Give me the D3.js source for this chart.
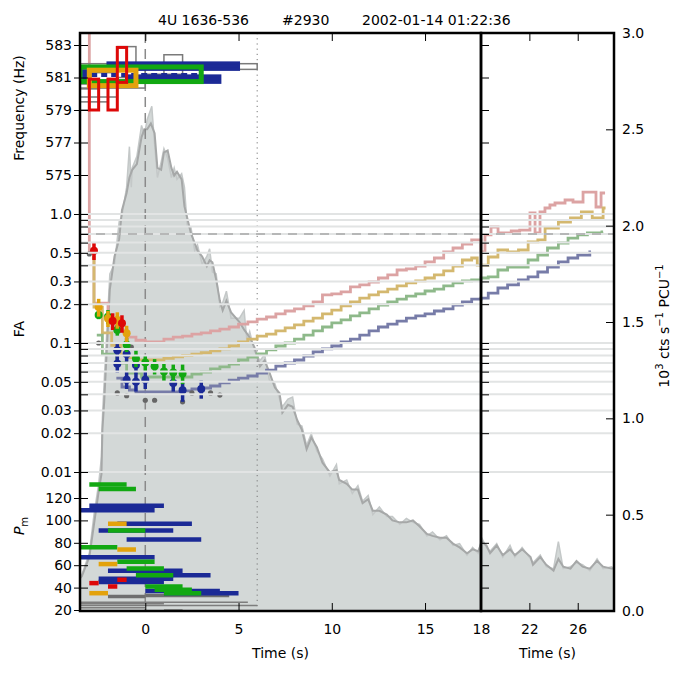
<!DOCTYPE html>
<html>
<head>
<meta charset="utf-8">
<script src="https://cdn.jsdelivr.net/npm/d3@7"></script>
<style>
body { margin: 0; background: #fff; }
svg { font-family: "DejaVu Sans", sans-serif; }
</style>
</head>
<body>
<svg id="chart"></svg>
<script>
// ---- data ----
// light curve, 10^3 cts/s/PCU : [time, rate]
const rateSmooth = [[-3.5,0.17],[-3.4,0.18],[-3.0,0.28],[-2.75,0.45],[-2.5,0.62],[-2.35,0.71],[-2.3,0.94],[-2.2,1.09],[-1.9,1.67],[-1.65,1.84],[-1.4,1.93],[-1.25,2.08],[-1.0,2.17],[-0.85,2.25],[-0.7,2.29],[-0.45,2.32],[-0.2,2.46],[-0.05,2.50],[0.1,2.50],[0.3,2.53],[0.5,2.48],[0.65,2.30],[0.85,2.29],[1.0,2.38],[1.2,2.39],[1.4,2.30],[1.55,2.26],[1.7,2.28],[1.95,2.24],[2.1,2.10],[2.25,2.04],[2.45,1.96],[2.65,1.91],[2.8,1.87],[3.05,1.84],[3.3,1.79],[3.45,1.82],[3.6,1.81],[3.8,1.72],[4.0,1.61],[4.15,1.56],[4.35,1.61],[4.6,1.55],[5.05,1.50],[5.3,1.46],[5.6,1.42],[5.85,1.37],[6.15,1.27],[6.4,1.30],[6.65,1.24],[6.95,1.16],[7.2,1.13],[7.35,1.03],[7.65,1.07],[7.9,1.06],[8.15,0.99],[8.4,0.94],[8.65,0.84],[8.9,0.90],[9.2,0.85],[9.5,0.77],[9.9,0.72],[10.25,0.73],[10.4,0.68],[10.8,0.66],[11.1,0.63],[11.4,0.63],[11.65,0.56],[11.95,0.58],[12.2,0.52],[12.55,0.52],[12.95,0.50],[13.25,0.47],[13.65,0.46],[14.0,0.46],[14.35,0.47],[14.7,0.44],[15.1,0.40],[15.4,0.39],[15.8,0.38],[16.15,0.38],[16.5,0.35],[16.85,0.33],[17.25,0.30],[17.55,0.32],[17.85,0.31],[18.05,0.36],[18.45,0.34],[18.75,0.30],[19.3,0.34],[19.8,0.29],[20.4,0.32],[20.8,0.29],[21.4,0.32],[22.1,0.28],[22.3,0.24],[22.9,0.28],[23.4,0.24],[24.0,0.21],[24.4,0.27],[24.8,0.23],[25.4,0.22],[25.9,0.26],[26.4,0.23],[27.0,0.22],[27.6,0.26],[28.1,0.23],[28.8,0.22],[29.0,0.22]];
const rateFine = [[-3.5,0.17],[-3.4,0.19],[-3.0,0.30],[-2.75,0.50],[-2.5,0.66],[-2.35,0.80],[-2.3,1.00],[-2.2,1.20],[-1.9,1.75],[-1.65,1.80],[-1.4,2.02],[-1.25,2.05],[-1.0,2.20],[-0.85,2.41],[-0.75,2.20],[-0.7,2.30],[-0.45,2.36],[-0.2,2.52],[-0.05,2.47],[0.1,2.55],[0.35,2.62],[0.5,2.42],[0.65,2.25],[0.85,2.33],[1.0,2.40],[1.2,2.35],[1.4,2.25],[1.55,2.30],[1.7,2.24],[1.95,2.27],[2.1,2.20],[2.25,2.00],[2.45,1.99],[2.65,1.87],[2.8,1.90],[3.05,1.80],[3.3,1.84],[3.45,1.88],[3.6,1.76],[3.8,1.75],[4.0,1.58],[4.15,1.60],[4.35,1.66],[4.6,1.52],[5.05,1.52],[5.3,1.56],[5.45,1.40],[5.6,1.45],[5.85,1.35],[6.15,1.30],[6.4,1.33],[6.65,1.20],[6.95,1.18],[7.2,1.10],[7.35,1.06],[7.65,1.10],[7.9,1.11],[8.15,0.97],[8.4,0.96],[8.65,0.86],[8.9,0.92],[9.2,0.83],[9.5,0.79],[9.9,0.70],[10.25,0.76],[10.4,0.66],[10.8,0.68],[11.1,0.61],[11.4,0.65],[11.65,0.57],[11.95,0.60],[12.2,0.50],[12.55,0.54],[12.95,0.49],[13.25,0.49],[13.65,0.45],[14.0,0.48],[14.35,0.46],[14.7,0.45],[15.1,0.39],[15.4,0.41],[15.8,0.37],[16.15,0.39],[16.5,0.34],[16.85,0.35],[17.25,0.29],[17.55,0.33],[17.85,0.30],[18.05,0.38],[18.45,0.33],[18.75,0.31],[19.3,0.35],[19.8,0.28],[20.4,0.34],[20.8,0.28],[21.4,0.33],[22.1,0.27],[22.3,0.25],[22.9,0.29],[23.4,0.23],[24.0,0.22],[24.4,0.36],[24.8,0.22],[25.4,0.23],[25.9,0.25],[26.4,0.24],[27.0,0.21],[27.6,0.27],[28.1,0.22],[28.8,0.23],[29.0,0.22]];

// FA detection thresholds (step lines) : [time, FA]
const faPink = [[-3.0,30],[-3.0,0.508],[-2.75,0.204],[-2.0,0.143],[-1.55,0.126],[-1.0,0.111],[-0.5,0.105],[0.0,0.102],[0.5,0.102],[1.0,0.107],[1.5,0.111],[2.0,0.113],[2.5,0.117],[3.0,0.120],[3.5,0.124],[4.0,0.128],[4.5,0.133],[5.0,0.140],[5.5,0.146],[6.0,0.153],[6.5,0.159],[7.0,0.168],[7.5,0.177],[8.0,0.184],[8.5,0.194],[9.0,0.208],[9.5,0.236],[10.0,0.240],[10.5,0.249],[11.0,0.272],[11.5,0.282],[12.0,0.297],[12.5,0.319],[13.0,0.337],[13.5,0.368],[14.0,0.375],[14.5,0.395],[15.0,0.425],[15.5,0.456],[16.0,0.508],[16.5,0.545],[17.0,0.585],[17.5,0.629],[18.0,0.508],[18.33,0.688],[18.83,0.793],[19.41,0.713],[20.5,0.738],[21.2,0.751],[22.05,1.018],[22.47,0.713],[22.88,1.036],[23.29,1.113],[23.7,1.174],[24.12,1.217],[24.95,1.284],[25.61,1.239],[26.44,1.48],[27.51,1.133],[27.93,1.455],[28.26,1.455]];
const faTan = [[-2.85,0.46],[-2.75,0.19],[-2.3,0.12],[-1.8,0.096],[-1.3,0.081],[-1.0,0.077],[-0.5,0.074],[0.0,0.074],[0.5,0.074],[1.0,0.076],[1.5,0.078],[2.0,0.080],[2.5,0.082],[3.0,0.084],[3.5,0.087],[4.0,0.090],[4.5,0.095],[5.0,0.102],[5.5,0.107],[6.0,0.113],[6.5,0.117],[7.0,0.124],[7.5,0.131],[8.0,0.138],[8.5,0.148],[9.0,0.156],[9.5,0.168],[10.0,0.180],[10.5,0.194],[11.0,0.208],[11.5,0.223],[12.0,0.236],[12.5,0.249],[13.0,0.262],[13.5,0.277],[14.0,0.292],[14.5,0.303],[15.0,0.319],[15.5,0.337],[16.0,0.362],[16.5,0.395],[17.0,0.440],[17.5,0.456],[17.8,0.402],[18.6,0.464],[19.4,0.526],[20.2,0.508],[21.1,0.526],[21.9,0.607],[22.7,0.629],[23.3,0.779],[24.4,0.867],[25.4,0.931],[26.3,1.036],[27.2,0.931],[28.1,1.113],[28.3,1.113]];
const faGreen = [[-2.6,0.115],[-2.3,0.082],[-1.55,0.070],[-1.0,0.0585],[-0.2,0.0545],[0.5,0.0545],[1.0,0.0545],[1.5,0.0545],[2.0,0.0545],[2.5,0.0575],[3.0,0.0596],[3.5,0.0629],[4.0,0.0652],[4.5,0.0687],[5.0,0.0738],[5.5,0.0779],[6.0,0.0822],[6.5,0.0883],[7.0,0.0948],[7.5,0.100],[8.0,0.107],[8.5,0.115],[9.0,0.124],[9.5,0.133],[10.0,0.143],[10.5,0.151],[11.0,0.162],[11.5,0.171],[12.0,0.184],[12.5,0.197],[13.0,0.208],[13.5,0.219],[14.0,0.231],[14.5,0.240],[15.0,0.253],[15.5,0.262],[16.0,0.277],[16.5,0.292],[17.0,0.303],[17.5,0.308],[18.0,0.319],[18.6,0.325],[19.4,0.368],[20.2,0.388],[21.1,0.388],[21.9,0.440],[22.7,0.481],[23.5,0.545],[24.4,0.596],[25.2,0.651],[26.0,0.688],[26.8,0.713],[27.6,0.713],[28.0,0.725],[28.1,0.725]];
const faBlue = [[-1.55,0.0535],[-1.25,0.0456],[-0.85,0.0432],[-0.5,0.0417],[0.0,0.0417],[0.5,0.0417],[1.0,0.0417],[1.5,0.0417],[2.0,0.0425],[2.5,0.044],[3.0,0.0448],[3.5,0.0464],[4.0,0.049],[4.5,0.0516],[5.0,0.0535],[5.5,0.0555],[6.0,0.0585],[6.5,0.0617],[7.0,0.0663],[7.5,0.070],[8.0,0.0738],[8.5,0.0793],[9.0,0.0852],[9.5,0.0899],[10.0,0.0948],[10.5,0.102],[11.0,0.107],[11.5,0.115],[12.0,0.124],[12.5,0.133],[13.0,0.140],[13.5,0.148],[14.0,0.156],[14.5,0.162],[15.0,0.168],[15.5,0.177],[16.0,0.184],[16.5,0.197],[17.0,0.208],[17.5,0.219],[18.0,0.223],[18.6,0.244],[19.4,0.267],[20.2,0.282],[21.1,0.308],[21.9,0.325],[22.7,0.355],[23.5,0.388],[24.4,0.425],[25.2,0.456],[26.0,0.481],[27.0,0.508],[27.1,0.508]];

// FA of individual candidates : [time, FA, error]
const ptsRed = [[-2.75,0.52,0.08],[-1.75,0.148,0.022],[-1.25,0.142,0.022]];
const ptsOrange = [[-2.5,0.19,0.03],[-2.0,0.155,0.022],[-1.5,0.151,0.022],[-1.0,0.119,0.017]];
const ptsGreen = [[-2.5,0.165,0.012],[-2.0,0.16,0.02],[-1.5,0.126,0.012],[-1.0,0.097,0.012],[-0.5,0.076,0.011],[0.0,0.0705,0.01],[0.5,0.066,0.009],[1.0,0.060,0.009],[1.5,0.059,0.009],[2.0,0.058,0.01]];
const ptsBlue = [[-1.5,0.088,0.01],[-1.5,0.069,0.01],[-1.0,0.082,0.01],[-1.0,0.052,0.008],[-0.5,0.0675,0.01],[-0.5,0.050,0.008],[0.0,0.052,0.008],[1.5,0.049,0.007],[2.0,0.043,0.008],[3.0,0.044,0.007]];
const ptsGray = [[-3.0,0.49],[-2.5,0.10],[-0.75,0.093],[-1.5,0.041],[-1.0,0.039],[0.0,0.036],[0.5,0.036],[2.0,0.035],[2.5,0.041],[3.5,0.041],[4.0,0.0395]];

// frequency windows : [t0, t1, f0, f1]
const freqGray = [[-3.5,-2.5,579.0,580.3],[-3.5,-2.0,579.5,580.6],[-3.5,-1.5,579.8,581.3],[-3.5,0.0,580.35,581.5],[-1.5,-0.5,581.0,582.9],[1.0,2.0,581.0,582.4],[-3.5,6.0,581.5,581.85],[0.0,2.0,580.8,581.2]];
const freqBlue = [[-2.0,5.0,581.5,581.9],[-1.0,4.0,580.7,581.1],[-3.5,-3.0,580.7,581.4]];
const freqGreen = [[-3.5,3.0,580.75,581.65]];
const freqOrange = [[-3.0,-0.5,580.5,581.45]];
const freqRed = [[-3.0,-2.5,579.0,580.9],[-2.0,-1.5,579.0,580.9],[-1.5,-1.0,580.7,582.85]];

// P_m bars : [t0, t1, Pm]
const pmBlue = [[-3.0,1.0,113],[-3.5,0.5,109],[-1.5,2.5,97],[-2.5,1.5,91],[-1.0,3.0,83],[-3.5,0.5,67],[-2.0,2.0,55],[-0.5,3.5,51],[-2.5,1.5,48],[-2.5,1.0,45],[0.0,4.0,37],[1.0,5.0,35]];
const pmGreen = [[-3.0,-1.0,132],[-2.5,-0.5,128],[-2.0,0.0,91],[-3.5,-1.5,76],[-1.5,0.5,63],[-1.0,1.0,57],[-0.5,1.5,51],[0.0,2.0,41],[0.5,2.5,38],[1.0,3.0,35]];
const pmOrange = [[-2.0,-1.0,97],[-1.5,-0.5,74],[-2.5,-1.5,61],[-3.0,-2.0,35]];
const pmRed = [[-1.5,-1.0,47],[-3.0,-2.5,44],[-2.0,-1.5,41]];
const pmGrayWide = [[-2.0,0.0,32],[0.0,4.5,33],[1.0,2.0,19]];
const pmGrayThin = [[-3.5,5.5,27],[-3.5,1.0,25.5],[-3.5,6.0,24],[-3.5,0.0,22]];

// ticks
const freqTicks = [575,577,579,581,583];
const faMajor = [1.0,0.5,0.3,0.2,0.1,0.05,0.03,0.02,0.01];
const faMajorText = ["1.0","0.5","0.3","0.2","0.1","0.05","0.03","0.02","0.01"];
const faGrid = [0.01,0.02,0.03,0.04,0.05,0.06,0.07,0.08,0.09,0.1,0.2,0.3,0.4,0.5,0.6,0.7,0.8,0.9,1.0];
const pmTicks = [20,40,60,80,100,120];
const rateTicks = [0,0.5,1.0,1.5,2.0,2.5,3.0];
const timeTicksL = [0,5,10,15,18];
const timeTicksR = [22,26];

// ---- layout ----
const pLeft = 80, pMid = 481, pRight = 614, pTop = 33, pBottom = 611;

const svg = d3.select("#chart").attr("width", 675).attr("height", 675);

const xL = d3.scaleLinear().domain([-3.5, 18]).range([pLeft, pMid]);
const xR = d3.scaleLinear().domain([18, 29]).range([pMid, pRight]);
const yRate = d3.scaleLinear().domain([0, 3]).range([pBottom, pTop]);
const yFreq = d3.scaleLinear().domain([583, 575]).range([45, 175]);
const yFA = d3.scaleLog().domain([1, 0.01]).range([214, 472]);
const yPm = d3.scaleLinear().domain([20, 120]).range([610, 498]);

const defs = svg.append("defs");
function addClip(id, x, y, w, h) {
  defs.append("clipPath").attr("id", id).append("rect")
    .attr("x", x).attr("y", y).attr("width", w).attr("height", h);
}
addClip("clipL", pLeft, pTop, pMid - pLeft, pBottom - pTop);
addClip("clipR", pMid, pTop, pRight - pMid, pBottom - pTop);
addClip("clipF", pLeft, pTop, pMid - pLeft, 190 - pTop);

const gL = svg.append("g").attr("clip-path", "url(#clipL)");
const gR = svg.append("g").attr("clip-path", "url(#clipR)");

// light curve in both panels
function drawCurve(g, x) {
  const area = d3.area().x(d => x(d[0])).y0(yRate(0)).y1(d => yRate(d[1]));
  const line = d3.line().x(d => x(d[0])).y(d => yRate(d[1]));
  g.append("path").datum(rateFine).attr("d", area).attr("fill", "#d3d8d7");
  g.append("path").datum(rateSmooth).attr("d", area).attr("fill", "#d3d8d7");
  g.append("path").datum(rateFine).attr("d", line)
    .attr("fill", "none").attr("stroke", "#c4c8c8").attr("stroke-width", 1.5);
  g.append("path").datum(rateSmooth).attr("d", line)
    .attr("fill", "none").attr("stroke", "#a6a8a8").attr("stroke-width", 2);
}
drawCurve(gL, xL);
drawCurve(gR, xR);

// FA grid lines across both panels
svg.append("g").selectAll("line")
  .data(faGrid)
  .enter()
  .append("line")
  .attr("x1", pLeft).attr("x2", pRight)
  .attr("y1", d => yFA(d)).attr("y2", d => yFA(d))
  .attr("stroke", "#e2e4e4")
  .attr("stroke-width", 2);

// reference lines
gL.append("line")
  .attr("x1", xL(0)).attr("x2", xL(0)).attr("y1", pTop).attr("y2", pBottom)
  .attr("stroke", "#8a8a8a").attr("stroke-width", 1.5).attr("stroke-dasharray", "10,6");
gL.append("line")
  .attr("x1", xL(6)).attr("x2", xL(6)).attr("y1", pTop).attr("y2", pBottom)
  .attr("stroke", "#777").attr("stroke-width", 1).attr("stroke-dasharray", "1.2,4");
svg.append("line")
  .attr("x1", pLeft).attr("x2", pRight).attr("y1", yFA(0.7)).attr("y2", yFA(0.7))
  .attr("stroke", "#8a8a8a").attr("stroke-width", 1.2).attr("stroke-dasharray", "9,7");

// frequency windows
const gF = svg.append("g").attr("clip-path", "url(#clipF)");
function drawRects(data, color, width, fill) {
  gF.append("g").selectAll("rect")
    .data(data)
    .enter()
    .append("rect")
    .attr("x", d => xL(d[0]))
    .attr("y", d => yFreq(d[3]))
    .attr("width", d => xL(d[1]) - xL(d[0]))
    .attr("height", d => yFreq(d[2]) - yFreq(d[3]))
    .attr("fill", fill)
    .attr("stroke", color)
    .attr("stroke-width", width);
}
drawRects(freqGray, "#7a7a7a", 1.5, "none");
drawRects(freqBlue, "#1b2a96", 3, "#1b2a96");
drawRects(freqGreen, "#12a812", 5, "none");
gF.append("line")
  .attr("x1", xL(-2.9)).attr("x2", xL(3.0))
  .attr("y1", yFreq(581.15)).attr("y2", yFreq(581.15))
  .attr("stroke", "#1b2a96").attr("stroke-width", 4).attr("stroke-dasharray", "6,4");
drawRects(freqOrange, "#e3a20c", 5, "none");
drawRects(freqRed, "#dd0808", 3, "none");

// P_m bars
function drawBars(data, color, width) {
  gL.append("g").selectAll("line")
    .data(data)
    .enter()
    .append("line")
    .attr("x1", d => xL(d[0])).attr("x2", d => xL(d[1]))
    .attr("y1", d => yPm(d[2])).attr("y2", d => yPm(d[2]))
    .attr("stroke", color)
    .attr("stroke-width", width);
}
drawBars(pmGrayThin, "#7d7d7d", 1.5);
drawBars(pmGrayWide, "#6e6e6e", 3.5);
drawBars(pmBlue, "#1b2a96", 4.5);
drawBars(pmGreen, "#12a812", 4.5);
drawBars(pmOrange, "#e3a20c", 4.5);
drawBars(pmRed, "#dd0808", 4.5);

// FA threshold steps
const faLines = [
  {data: faPink, color: "#dca3a3"},
  {data: faTan, color: "#d4b86f"},
  {data: faGreen, color: "#8eb98a"},
  {data: faBlue, color: "#777ca8"}
];
[[gL, xL], [gR, xR]].forEach(function(p) {
  const step = d3.line().x(d => p[1](d[0])).y(d => yFA(d[1])).curve(d3.curveStepAfter);
  faLines.forEach(function(s) {
    p[0].append("path").datum(s.data).attr("d", step)
      .attr("fill", "none").attr("stroke", s.color).attr("stroke-width", 2.8);
  });
});

// candidate points
gL.append("g").selectAll("circle")
  .data(ptsGray)
  .enter()
  .append("circle")
  .attr("cx", d => xL(d[0])).attr("cy", d => yFA(d[1]))
  .attr("r", 2.6).attr("fill", "#666");

function drawPts(data, color) {
  const g = gL.append("g");
  g.selectAll("line")
    .data(data)
    .enter()
    .append("line")
    .attr("x1", d => xL(d[0])).attr("x2", d => xL(d[0]))
    .attr("y1", d => yFA(d[1] + d[2])).attr("y2", d => yFA(d[1] - d[2]))
    .attr("stroke", color).attr("stroke-width", 3.5);
  g.selectAll("circle")
    .data(data)
    .enter()
    .append("circle")
    .attr("cx", d => xL(d[0])).attr("cy", d => yFA(d[1]))
    .attr("r", 4).attr("fill", color);
}
drawPts(ptsBlue, "#1b2a96");
drawPts(ptsGreen, "#12a812");
drawPts(ptsOrange, "#e3a20c");
drawPts(ptsRed, "#dd0808");

// ---- axes ----
function styleAxis(g) {
  g.select(".domain").remove();
  g.selectAll("line").attr("stroke", "#000").attr("stroke-width", 1);
  g.selectAll("text").style("font-size", "14px").style("font-family", "DejaVu Sans").attr("fill", "#000");
}

// left: outer ticks with labels
svg.append("g").attr("transform", `translate(${pLeft},0)`)
  .call(d3.axisLeft(yFreq).tickValues(freqTicks).tickSize(6).tickPadding(2)).call(styleAxis);
svg.append("g").attr("transform", `translate(${pLeft},0)`)
  .call(d3.axisLeft(yFA).tickValues(faMajor).tickSize(6).tickPadding(2)
    .tickFormat(d => faMajorText[faMajor.indexOf(d)])).call(styleAxis);
svg.append("g").attr("transform", `translate(${pLeft},0)`)
  .call(d3.axisLeft(yPm).tickValues(pmTicks).tickSize(6).tickPadding(2)).call(styleAxis);

// inner ticks on the left spine and on the panel divider
[pLeft, pMid].forEach(function(x0) {
  svg.append("g").attr("transform", `translate(${x0},0)`)
    .call(d3.axisRight(yFreq).tickValues(freqTicks).tickSize(8).tickFormat("")).call(styleAxis);
  svg.append("g").attr("transform", `translate(${x0},0)`)
    .call(d3.axisRight(yFA).tickValues(faGrid).tickSize(8).tickFormat("")).call(styleAxis);
  svg.append("g").attr("transform", `translate(${x0},0)`)
    .call(d3.axisRight(yPm).tickValues(pmTicks).tickSize(8).tickFormat("")).call(styleAxis);
});

// right: count rate
svg.append("g").attr("transform", `translate(${pRight},0)`)
  .call(d3.axisRight(yRate).tickValues(rateTicks).tickSize(-8).tickPadding(8)
    .tickFormat(d3.format(".1f"))).call(styleAxis);

// time axes
svg.append("g").attr("transform", `translate(0,${pBottom})`)
  .call(d3.axisBottom(xL).tickValues(timeTicksL).tickSize(-8).tickPadding(13)).call(styleAxis);
svg.append("g").attr("transform", `translate(0,${pTop})`)
  .call(d3.axisTop(xL).tickValues(timeTicksL.slice(0, 4)).tickSize(-8).tickFormat("")).call(styleAxis);
svg.append("g").attr("transform", `translate(0,${pBottom})`)
  .call(d3.axisBottom(xR).tickValues(timeTicksR).tickSize(-8).tickPadding(13)).call(styleAxis);
svg.append("g").attr("transform", `translate(0,${pTop})`)
  .call(d3.axisTop(xR).tickValues(timeTicksR).tickSize(-8).tickFormat("")).call(styleAxis);

// spines
svg.append("rect").attr("x", pLeft).attr("y", pTop).attr("width", pMid - pLeft).attr("height", pBottom - pTop)
  .attr("fill", "none").attr("stroke", "#000").attr("stroke-width", 2.5);
svg.append("rect").attr("x", pMid).attr("y", pTop).attr("width", pRight - pMid).attr("height", pBottom - pTop)
  .attr("fill", "none").attr("stroke", "#000").attr("stroke-width", 2.5);

// ---- text ----
const txt = svg.append("g").style("font-size", "14px").attr("fill", "#000");
txt.append("text").attr("x", 158).attr("y", 24.5).text("4U 1636-536");
txt.append("text").attr("x", 282).attr("y", 24.5).text("#2930");
txt.append("text").attr("x", 362).attr("y", 24.5).text("2002-01-14 01:22:36");

txt.append("text").attr("x", (pLeft + pMid) / 2).attr("y", 658).attr("text-anchor", "middle").text("Time (s)");
txt.append("text").attr("x", (pMid + pRight) / 2).attr("y", 658).attr("text-anchor", "middle").text("Time (s)");

txt.append("text").attr("transform", "translate(24,108)rotate(-90)")
  .attr("text-anchor", "middle").text("Frequency (Hz)");
txt.append("text").attr("transform", "translate(24,329)rotate(-90)")
  .attr("text-anchor", "middle").text("FA");
const pm = txt.append("text").attr("transform", "translate(24,526)rotate(-90)")
  .attr("text-anchor", "middle");
pm.append("tspan").style("font-style", "italic").text("P");
pm.append("tspan").style("font-size", "10px").attr("dy", 4).text("m");

const rl = txt.append("text").attr("transform", "translate(669,326)rotate(-90)")
  .attr("text-anchor", "middle");
rl.append("tspan").text("10");
rl.append("tspan").style("font-size", "10px").attr("dy", -6).text("3");
rl.append("tspan").attr("dy", 6).text(" cts s");
rl.append("tspan").style("font-size", "10px").attr("dy", -6).text("\u22121");
rl.append("tspan").attr("dy", 6).text(" PCU");
rl.append("tspan").style("font-size", "10px").attr("dy", -6).text("\u22121");
</script>
</body>
</html>
